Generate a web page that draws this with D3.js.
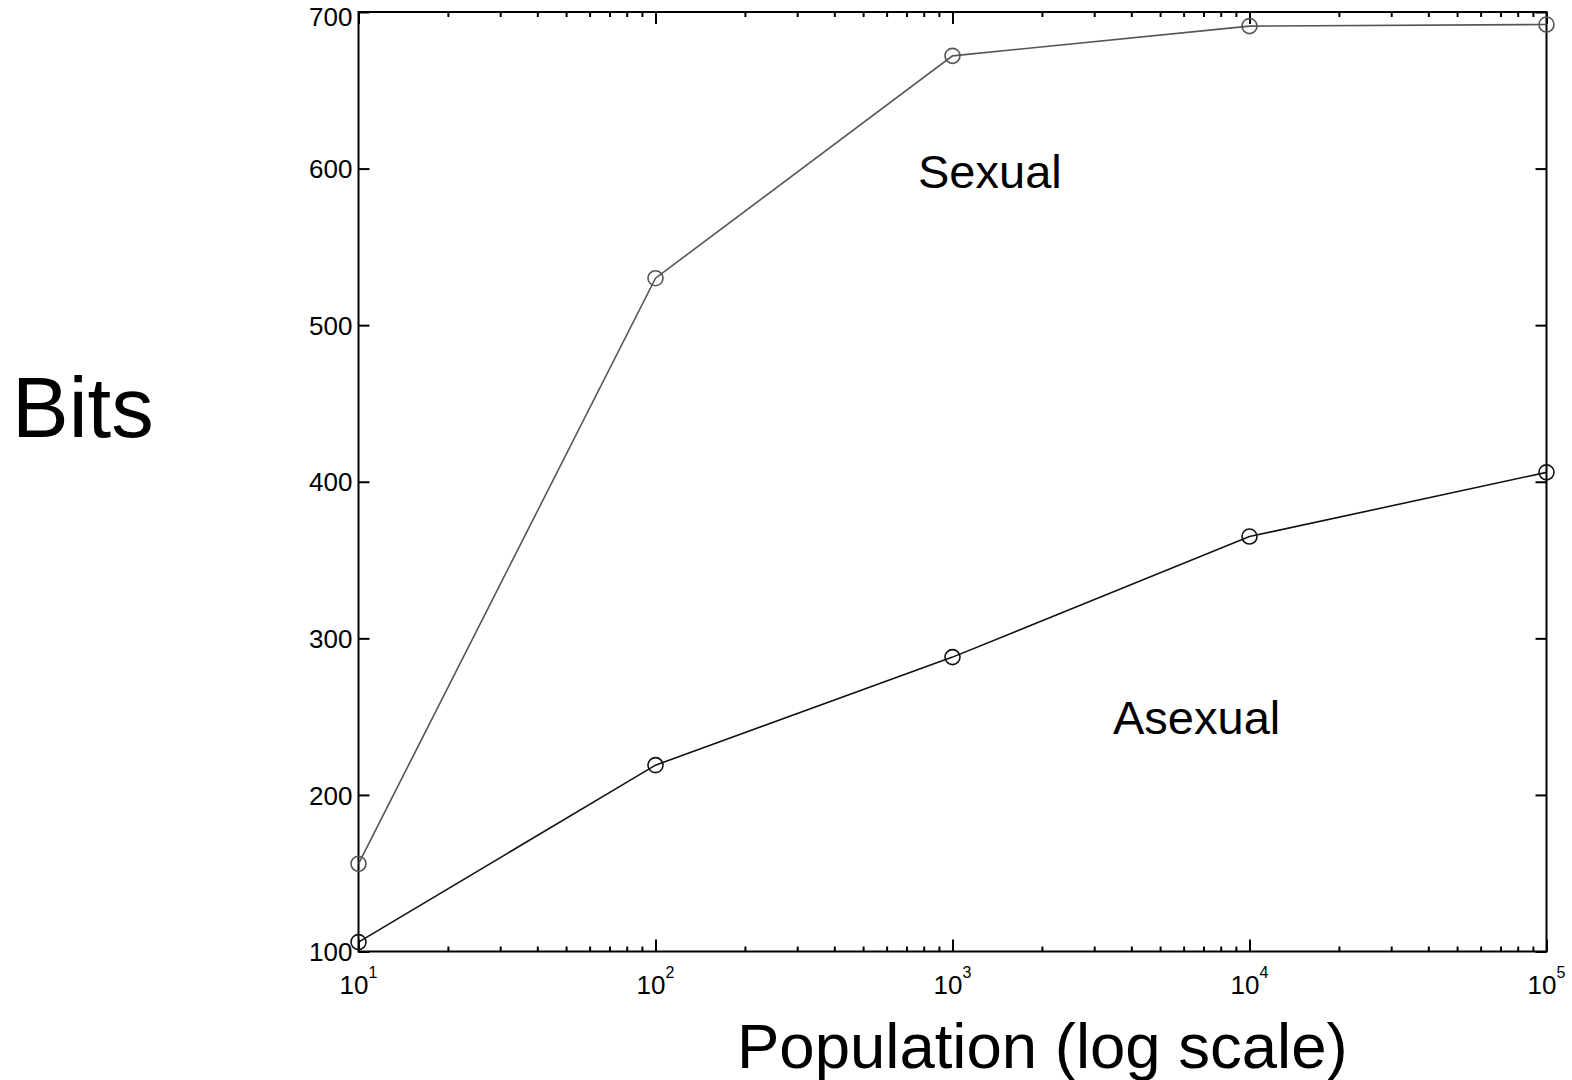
<!DOCTYPE html>
<html>
<head>
<meta charset="utf-8">
<script src="https://cdn.jsdelivr.net/npm/d3@7/dist/d3.min.js"></script>
<style>
  html, body { margin: 0; padding: 0; background: #fff; }
  svg { display: block; font-family: "Liberation Sans", Arial, sans-serif; }
</style>
</head>
<body>
<svg id="chart" width="1572" height="1080"></svg>
<script>
// Population sizes (log scale) and bits for each reproduction mode
const populations = [10, 100, 1000, 10000, 100000];
const sexualBits = [156, 530, 672, 691, 692];
const asexualBits = [106, 219, 288, 365, 406];
const yTicks = [100, 200, 300, 400, 500, 600, 700];
const xDecades = [1, 2, 3, 4, 5];

const svg = d3.select("#chart");
const plot = { left: 358.5, right: 1546.5, top: 12, bottom: 951.5 };

const x = d3.scaleLog().domain([10, 100000]).range([plot.left, plot.right]);
const y = d3.scaleLinear().domain([100, 700]).range([plot.bottom, plot.top]);

// Minor ticks: 2..9 within each decade
const minor = [];
for (let d = 1; d < 5; d++) for (let m = 2; m <= 9; m++) minor.push(m * Math.pow(10, d));
const major = xDecades.map(e => Math.pow(10, e));

function styleAxis(g) {
  g.select(".domain").remove();
  g.selectAll(".tick line").attr("stroke", "#000").attr("stroke-width", 2);
  g.selectAll(".tick text").remove();
}

// Bottom axis ticks (inward)
svg.append("g").attr("transform", `translate(0,${plot.bottom})`)
  .call(d3.axisBottom(x).tickValues(minor).tickSize(-5).tickFormat("")).call(styleAxis);
svg.append("g").attr("transform", `translate(0,${plot.bottom})`)
  .call(d3.axisBottom(x).tickValues(major).tickSize(-12).tickFormat("")).call(styleAxis);
// Top axis ticks (inward)
svg.append("g").attr("transform", `translate(0,${plot.top})`)
  .call(d3.axisTop(x).tickValues(minor).tickSize(-5).tickFormat("")).call(styleAxis);
svg.append("g").attr("transform", `translate(0,${plot.top})`)
  .call(d3.axisTop(x).tickValues(major).tickSize(-12).tickFormat("")).call(styleAxis);
// Left and right axis ticks (inward)
svg.append("g").attr("transform", `translate(${plot.left},0)`)
  .call(d3.axisLeft(y).tickValues(yTicks).tickSize(-11).tickFormat("")).call(styleAxis);
svg.append("g").attr("transform", `translate(${plot.right},0)`)
  .call(d3.axisRight(y).tickValues(yTicks).tickSize(-11).tickFormat("")).call(styleAxis);

// Frame
svg.append("rect")
  .attr("x", plot.left).attr("y", plot.top)
  .attr("width", plot.right - plot.left).attr("height", plot.bottom - plot.top)
  .attr("fill", "none").attr("stroke", "#000").attr("stroke-width", 2);

// Y tick labels (top label nudged down to stay inside the page)
svg.append("g").selectAll("text").data(yTicks).join("text")
  .attr("x", plot.left - 6)
  .attr("y", d => Math.max(y(d), 16))
  .attr("dy", "0.37em")
  .attr("text-anchor", "end")
  .attr("font-size", 26)
  .attr("fill", "#000")
  .text(d => d);

// X tick labels: 10 with superscript exponent
const xl = svg.append("g").selectAll("text").data(xDecades).join("text")
  .attr("x", d => x(Math.pow(10, d)))
  .attr("y", 994)
  .attr("text-anchor", "middle")
  .attr("font-size", 26)
  .attr("fill", "#000");
xl.append("tspan").text("10");
xl.append("tspan").attr("font-size", 16).attr("dy", -16).text(d => d);

// Series
const series = [
  { values: sexualBits, color: "#555555" },
  { values: asexualBits, color: "#111111" }
];
const line = d3.line().x(d => x(d[0])).y(d => y(d[1]));
series.forEach(s => {
  const pts = populations.map((p, i) => [p, s.values[i]]);
  svg.append("path").datum(pts)
    .attr("d", line)
    .attr("fill", "none")
    .attr("stroke", s.color)
    .attr("stroke-width", 1.6);
  svg.append("g").selectAll("circle").data(pts).join("circle")
    .attr("cx", d => x(d[0]))
    .attr("cy", d => y(d[1]))
    .attr("r", 7.5)
    .attr("fill", "none")
    .attr("stroke", s.color)
    .attr("stroke-width", 1.6);
});

// Series labels
svg.append("text").attr("x", 918).attr("y", 188).attr("font-size", 47).attr("fill", "#000").text("Sexual");
svg.append("text").attr("x", 1113).attr("y", 734).attr("font-size", 47).attr("fill", "#000").text("Asexual");

// Axis titles
svg.append("text").attr("x", 12).attr("y", 437).attr("font-size", 85).attr("fill", "#000").text("Bits");
svg.append("text").attr("x", 737).attr("y", 1068).attr("font-size", 63.5).attr("fill", "#000").text("Population (log scale)");
</script>
</body>
</html>
